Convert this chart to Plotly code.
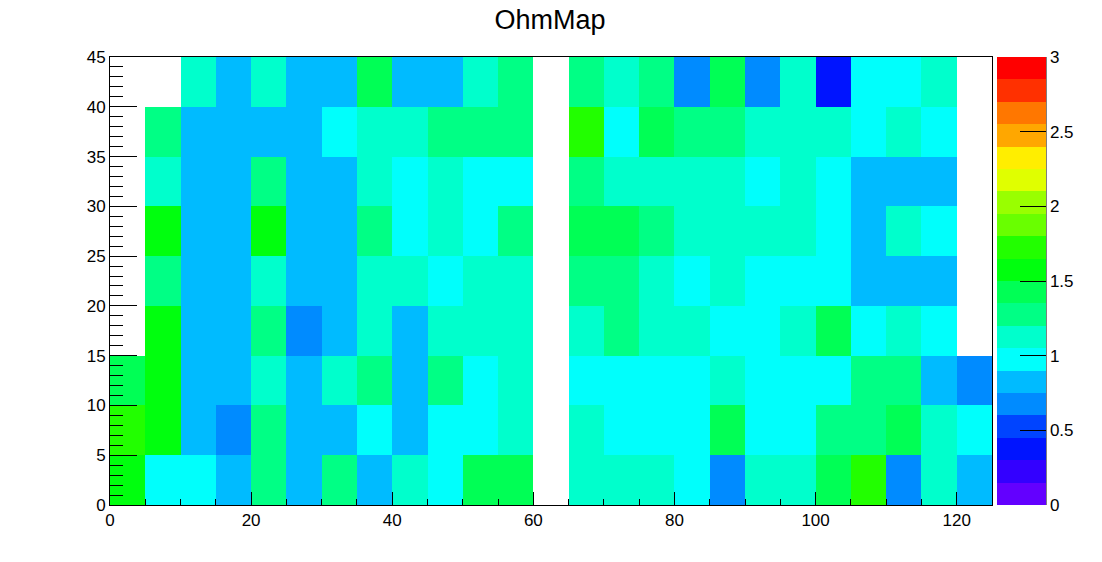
import plotly.graph_objects as go

# Bin edges (5-unit bins)
x_edges = [0, 5, 10, 15, 20, 25, 30, 35, 40, 45, 50, 55, 60, 65, 70, 75, 80, 85, 90, 95, 100, 105, 110, 115, 120, 125]
y_edges = [0, 5, 10, 15, 20, 25, 30, 35, 40, 45]

N = None
# Rows from y=0-5 (bottom) to y=40-45 (top); columns x=0-5 ... 120-125
row_0_5   = [1.58, 0.98, 0.98, 0.83, 1.28, 0.83, 1.28, 0.83, 1.13, 0.98, 1.43, 1.43, N, 1.13, 1.13, 1.13, 0.98, 0.68, 1.13, 1.13, 1.43, 1.72, 0.68, 1.13, 0.83]
row_5_10  = [1.72, 1.58, 0.83, 0.68, 1.28, 0.83, 0.83, 0.98, 0.83, 0.98, 0.98, 1.13, N, 1.13, 0.98, 0.98, 0.98, 1.43, 0.98, 0.98, 1.28, 1.28, 1.43, 1.13, 0.98]
row_10_15 = [1.43, 1.58, 0.83, 0.83, 1.13, 0.83, 1.13, 1.28, 0.83, 1.28, 0.98, 1.13, N, 0.98, 0.98, 0.98, 0.98, 1.13, 0.98, 0.98, 0.98, 1.28, 1.28, 0.83, 0.68]
row_15_20 = [N, 1.58, 0.83, 0.83, 1.28, 0.68, 0.83, 1.13, 0.83, 1.13, 1.13, 1.13, N, 1.13, 1.28, 1.13, 1.13, 0.98, 0.98, 1.13, 1.43, 0.98, 1.13, 0.98, N]
row_20_25 = [N, 1.28, 0.83, 0.83, 1.13, 0.83, 0.83, 1.13, 1.13, 0.98, 1.13, 1.13, N, 1.28, 1.28, 1.13, 0.98, 1.13, 0.98, 0.98, 0.98, 0.83, 0.83, 0.83, N]
row_25_30 = [N, 1.58, 0.83, 0.83, 1.58, 0.83, 0.83, 1.28, 0.98, 1.13, 0.98, 1.28, N, 1.43, 1.43, 1.28, 1.13, 1.13, 1.13, 1.13, 0.98, 0.83, 1.13, 0.98, N]
row_30_35 = [N, 1.13, 0.83, 0.83, 1.28, 0.83, 0.83, 1.13, 0.98, 1.13, 0.98, 0.98, N, 1.28, 1.13, 1.13, 1.13, 1.13, 0.98, 1.13, 0.98, 0.83, 0.83, 0.83, N]
row_35_40 = [N, 1.28, 0.83, 0.83, 0.83, 0.83, 0.98, 1.13, 1.13, 1.28, 1.28, 1.28, N, 1.72, 0.98, 1.43, 1.28, 1.28, 1.13, 1.13, 1.13, 0.98, 1.13, 0.98, N]
row_40_45 = [N, N, 1.13, 0.83, 1.13, 0.83, 0.83, 1.43, 0.83, 0.83, 1.13, 1.28, N, 1.28, 1.13, 1.28, 0.68, 1.43, 0.68, 1.13, 0.38, 0.98, 0.98, 1.13, N]

z_rows = [row_0_5, row_5_10, row_10_15, row_15_20, row_20_25, row_25_30, row_30_35, row_35_40, row_40_45]

# ROOT "pretty" palette, 20 contour levels between 0 and 3
level_colors = [
    "rgb(99,0,255)", "rgb(51,0,255)", "rgb(0,20,255)", "rgb(0,68,255)", "rgb(0,139,255)",
    "rgb(0,187,255)", "rgb(0,255,252)", "rgb(0,255,204)", "rgb(0,255,133)", "rgb(0,255,85)",
    "rgb(0,255,14)", "rgb(34,255,0)", "rgb(105,255,0)", "rgb(153,255,0)", "rgb(224,255,0)",
    "rgb(255,238,0)", "rgb(255,167,0)", "rgb(255,119,0)", "rgb(255,48,0)", "rgb(255,0,0)",
]
n = len(level_colors)
colorscale = []
for k, c in enumerate(level_colors):
    colorscale.append([k / n, c])
    colorscale.append([(k + 1) / n, c])

cb_ticks = [0, 0.5, 1, 1.5, 2, 2.5, 3]
cb_text = ["0", "0.5", "1", "1.5", "2", "2.5", "3"]

# The page body has an 8px margin, so the figure is shrunk/offset to compensate
OFF = 8
W, H = 1102 - OFF, 562 - OFF
ml, mr, mt, mb = 110 - OFF, 110, 57 - OFF, 57
pw = W - ml - mr

fig = go.Figure()
fig.add_trace(go.Heatmap(
    x=x_edges, y=y_edges, z=z_rows,
    zmin=0, zmax=3, colorscale=colorscale,
    hoverongaps=False,
    colorbar=dict(
        x=(997 - 110) / pw, xanchor="left", xpad=0,
        y=0.5, yanchor="middle", len=1, lenmode="fraction", ypad=0,
        thickness=49, thicknessmode="pixels",
        outlinewidth=0,
        tickmode="array", tickvals=cb_ticks, ticktext=cb_text,
        ticks="inside", ticklen=26, tickcolor="black", tickwidth=1,
        tickfont=dict(family="Liberation Sans, Arial, sans-serif", size=17, color="black"),
    ),
))

fig.add_shape(type="line", xref="paper", yref="paper",
              x0=(1046 - 110) / pw, x1=(1046 - 110) / pw, y0=0, y1=1,
              line=dict(color="black", width=1))

axis_font = dict(family="Liberation Sans, Arial, sans-serif", size=17, color="black")
fig.update_layout(
    width=W, height=H,
    margin=dict(l=ml, r=mr, t=mt, b=mb, autoexpand=False),
    paper_bgcolor="white", plot_bgcolor="white",
    title=dict(text="OhmMap", x=(550 - OFF) / W, xanchor="center", xref="container",
               y=1 - (20 - OFF) / H, yanchor="middle",
               font=dict(family="Liberation Sans, Arial, sans-serif", size=27, color="black")),
    xaxis=dict(range=[0, 125], tick0=0, dtick=20, ticks="inside", ticklen=13,
               tickcolor="black", showline=True, linecolor="black", linewidth=1, mirror=True,
               showgrid=False, zeroline=False, tickfont=axis_font,
               minor=dict(dtick=5, ticks="inside", ticklen=6, tickcolor="black", showgrid=False)),
    yaxis=dict(range=[0, 45], tick0=0, dtick=5, ticks="inside", ticklen=27,
               tickcolor="black", showline=True, linecolor="black", linewidth=1, mirror=True,
               showgrid=False, zeroline=False, tickfont=axis_font,
               minor=dict(dtick=1, ticks="inside", ticklen=13, tickcolor="black", showgrid=False)),
)

fig.write_html("out.html")
